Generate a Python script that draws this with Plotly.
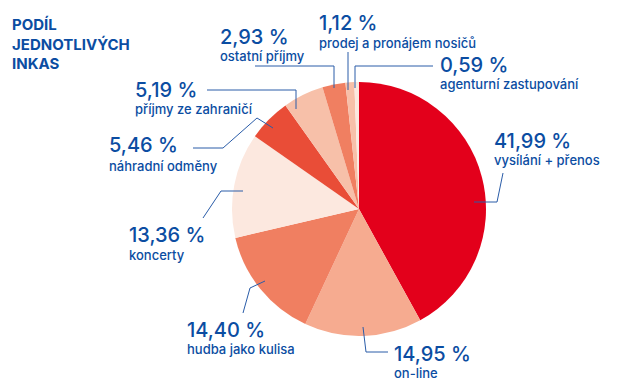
import plotly.graph_objects as go

# ---- data ----
categories = ["vysílání + přenos", "on-line", "hudba jako kulisa", "koncerty",
              "náhradní odměny", "příjmy ze zahraničí", "ostatní příjmy",
              "prodej a pronájem nosičů", "agenturní zastupování"]
values = [41.99, 14.95, 14.40, 13.36, 5.46, 5.19, 2.93, 1.12, 0.59]
value_labels = ["41,99 %", "14,95 %", "14,40 %", "13,36 %", "5,46 %",
                "5,19 %", "2,93 %", "1,12 %", "0,59 %"]
colors = ["#E3001B", "#F6AB90", "#F07F61", "#FCE8DF", "#E94D37",
          "#F7C0A9", "#F07F61", "#F7C0A9", "#FCE8DF"]

OFF = 8                 # page body margin
W, H = 622 - OFF, 385 - OFF
BLUE = "#0B4DA2"
LINE = "#2A5CA8"
FONT = "Inter"

# label layout (pixel positions in the window): (x_left, y_number, y_name)
label_pos = [(492, 141, 160), (392, 354, 373), (185, 330, 349), (127, 235, 255),
             (107, 145, 166), (133, 90, 109), (218, 37, 56), (317, 23, 43),
             (438, 65, 84)]
# leader lines (pixel polylines)
leaders = [
    [(474, 202), (497, 202), (503, 173)],
    [(363, 327), (366, 352), (388, 352)],
    [(265, 281), (250, 288), (243, 313)],
    [(243, 191), (221, 191), (203, 218)],
    [(273, 128), (257, 118), (223, 148), (193, 148)],
    [(296, 109), (296, 90), (207, 90)],
    [(334, 88), (334, 66), (255, 66)],
    [(348, 90), (348, 52)],
    [(355, 88), (355, 66), (433, 66)],
]

def px(x):
    return (x - OFF) / W

def py(y):
    return 1 - (y - OFF) / H

fig = go.Figure(go.Pie(
    labels=categories, values=values, sort=False, direction="clockwise",
    rotation=0, marker=dict(colors=colors, line=dict(width=0)),
    textinfo="none", hoverinfo="label+percent", showlegend=False,
    domain=dict(x=[px(232), px(486)], y=[py(336), py(82)]),
))

annotations = []
for (x, yn, ym), num, name in zip(label_pos, value_labels, categories):
    annotations.append(dict(x=px(x), y=py(yn), xref="paper", yref="paper",
                            text=num, showarrow=False, xanchor="left", yanchor="middle",
                            font=dict(family=FONT, size=20, color=BLUE, weight=500)))
    annotations.append(dict(x=px(x), y=py(ym), xref="paper", yref="paper",
                            text=name, showarrow=False, xanchor="left", yanchor="middle",
                            font=dict(family=FONT, size=13, color=BLUE, weight=500)))

annotations.append(dict(x=px(10), y=py(13), xref="paper", yref="paper",
                        text="<b>PODÍL<br>JEDNOTLIVÝCH<br>INKAS</b>", showarrow=False,
                        xanchor="left", yanchor="top", align="left",
                        font=dict(family=FONT, size=15, color=BLUE)))

shapes = []
for pts in leaders:
    path = "M " + " L ".join(f"{px(x)},{py(y)}" for x, y in pts)
    shapes.append(dict(type="path", path=path, xref="paper", yref="paper",
                       line=dict(color=LINE, width=1)))

fig.update_layout(width=W, height=H, margin=dict(l=0, r=0, t=0, b=0),
                  paper_bgcolor="white", plot_bgcolor="white",
                  annotations=annotations, shapes=shapes)
fig.write_html("out.html")
